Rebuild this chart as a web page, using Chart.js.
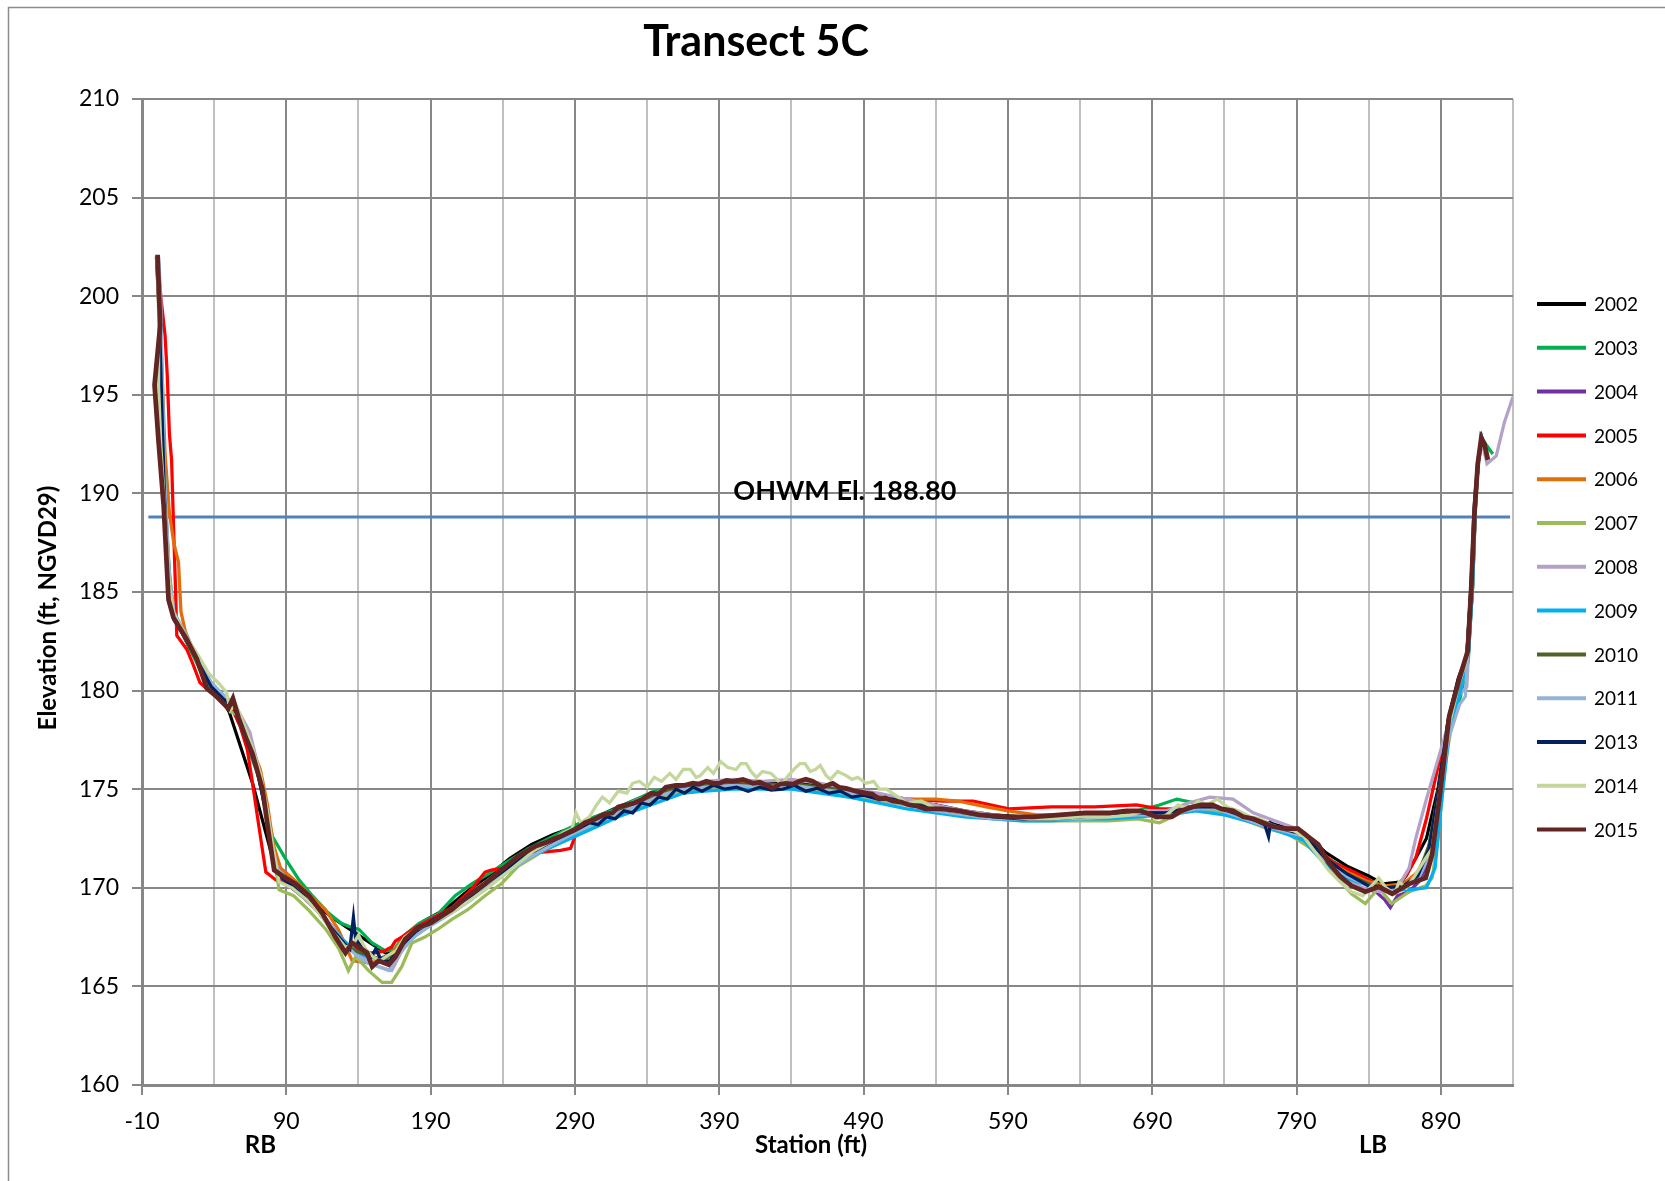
<!DOCTYPE html>
<html lang="en">
<head>
  <meta charset="UTF-8">
  <title>Transect 5C</title>
  <script src="https://cdn.jsdelivr.net/npm/chart.js"></script>
  <style>
    html, body { margin: 0; padding: 0; background: #fff; }
    #wrap { width: 1665px; height: 1181px; }
  </style>
</head>
<body>
  <div id="wrap"><canvas id="myChart" width="1665" height="1181"></canvas></div>

  <script>
    // survey points: [station (ft), elevation (ft)]
    const survey2002 = [[0,202],[2,199],[3,195],[5,190],[8,185.2],[12,183.8],[22,182.3],[30,181.2],[38,180.2],[45,179.6],[50.5,178.9],[66.6,175.3],[82.7,170.9],[89.6,170.6],[100,170.0],[110,169.2],[121.8,168.5],[140,167.6],[158.7,166.7],[165,166.7],[175,167.6],[185,168.3],[200,168.9],[215,169.8],[230,170.6],[245,171.5],[260,172.2],[275,172.7],[290,173.1],[305,173.6],[320,174.1],[340,174.7],[360,175.1],[380,175.3],[400,175.3],[420,175.3],[440,175.3],[460,175.2],[480,174.9],[500,174.6],[520,174.4],[540,174.2],[560,173.9],[580,173.7],[600,173.6],[620,173.6],[640,173.7],[660,173.8],[680,173.9],[700,173.8],[720,174.1],[740,174.0],[760,173.5],[780,173.1],[795,172.8],[810,171.8],[825,171.1],[840,170.6],[850,170.2],[863,170.3],[872.6,171.5],[880,172.5],[888,175.0],[895,178.5],[902,180.6],[908,181.8],[911,185.5],[913,189.2],[915.5,191.6],[918,192.7],[922,191.8]];
    const survey2003 = [[0.5,202],[2,199.5],[3.5,195],[5.5,190],[9,186],[12,183.8],[22,182.3],[30,181.1],[38,180.1],[46,179.5],[52,179.2],[58,178.2],[64,177.0],[70,175.8],[76,174.0],[80.4,172.6],[90,171.4],[98.8,170.4],[108,169.6],[118,168.8],[128,168.2],[135,168.0],[140.2,167.9],[149.5,167.2],[158.7,166.8],[165,166.9],[172,167.6],[182,168.2],[195.5,168.7],[207,169.6],[218.5,170.2],[232,170.8],[245,171.4],[258,172.0],[272,172.5],[288,173.1],[300,173.5],[315,173.9],[330,174.4],[345,174.9],[360,175.1],[380,175.3],[400,175.3],[420,175.2],[440,175.2],[460,175.0],[480,174.8],[500,174.5],[520,174.3],[540,174.1],[560,173.8],[580,173.6],[600,173.6],[620,173.6],[640,173.7],[660,173.8],[680,173.9],[695,174.2],[707,174.5],[720,174.3],[735,174.0],[750,173.6],[765,173.3],[780,173.0],[795,172.7],[810,171.6],[825,170.9],[840,170.4],[852,170.0],[864,170.0],[872,170.6],[880,171.5],[888,174.5],[896,178.6],[903,179.5],[909,181.5],[912,185.4],[914,189.5],[916,191.7],[918.5,192.8],[922,192.4],[926,192.0]];
    const survey2004 = [[0.5,202],[2,199],[3.5,195],[5,190],[8.5,185],[12,183.6],[22,182.4],[30,181.3],[38,180.2],[46,179.6],[53,179.2],[58,178.4],[64,177.2],[70,175.9],[76,173.8],[80,171.8],[84,170.6],[92,170.1],[102,169.5],[112,168.8],[122,168.0],[130,167.3],[138,166.8],[146,166.6],[154,166.4],[162,166.6],[170,167.2],[180,167.9],[190,168.4],[204,168.9],[218,169.7],[230,170.4],[245,171.2],[260,172.0],[275,172.5],[290,173.0],[305,173.5],[320,173.9],[335,174.3],[350,174.8],[365,175.1],[380,175.2],[400,175.3],[420,175.2],[440,175.2],[460,175.0],[480,174.8],[500,174.5],[520,174.3],[540,174.0],[560,173.8],[580,173.6],[600,173.5],[620,173.5],[640,173.6],[660,173.7],[680,173.8],[700,173.8],[715,174.1],[730,174.1],[745,173.8],[760,173.4],[775,173.1],[790,172.8],[805,171.6],[820,170.6],[835,170.0],[845,169.8],[851,169.4],[855,169.0],[860,169.6],[868,169.8],[876,170.4],[884,172.0],[890,175.0],[896,178.4],[903,180.2],[909,181.8],[912,185.5],[914,189.6],[916,191.8],[918.5,192.7],[922,191.9]];
    const survey2005 = [[0.5,202],[3,200],[6,198],[7.5,196],[9,193],[10.5,191.7],[12,188],[13.5,184.5],[14.1,182.8],[21,182.1],[25,181.4],[30.2,180.4],[38,179.9],[46,179.4],[53,179.0],[58,178.2],[63,177.0],[66.6,175.3],[70,173.6],[73.5,171.9],[75.8,170.8],[82.7,170.4],[92,170.1],[102,169.6],[112,168.9],[122,168.0],[130,167.2],[138,166.9],[145,166.7],[151.8,166.7],[158,166.8],[163,167.0],[165.6,167.3],[170,167.5],[180,168.0],[190,168.4],[205,169.0],[218,169.9],[227.7,170.8],[232,170.9],[240,171.0],[252,171.5],[266,171.8],[280,171.9],[287,172.0],[291,172.8],[300,173.3],[315,173.7],[330,174.1],[345,174.7],[360,175.1],[380,175.2],[400,175.3],[420,175.2],[440,175.2],[460,175.1],[480,174.9],[500,174.7],[520,174.5],[545,174.4],[566,174.4],[590.6,174.0],[620,174.1],[650,174.1],[679,174.2],[695,174.0],[710,174.0],[725,174.2],[740,173.9],[755,173.5],[770,173.2],[785,172.9],[800,172.3],[815,171.3],[830,170.8],[845,170.2],[858,170.0],[866,170.6],[872.6,171.5],[880,173.5],[888.8,176.4],[895.8,178.3],[903,180.3],[909,182.0],[912,185.3],[914,189.3],[916,191.7],[918.5,192.7],[922,191.8]];
    const survey2006 = [[0.5,202],[2,199.5],[4,196],[6,192],[9,189],[12,187.5],[15.3,186.5],[17,184],[20,183.0],[27,181.8],[35,180.5],[43,179.7],[52,179.3],[58,178.5],[65,177.3],[72,176.0],[77,174.2],[81,172.2],[86,171.0],[94,170.5],[104,169.8],[117,168.9],[126,167.9],[132,166.9],[135.6,166.3],[147,166.2],[155,166.3],[162,166.6],[170,167.3],[180,167.9],[192,168.3],[205,168.9],[218,169.7],[230,170.4],[245,171.1],[260,171.8],[275,172.4],[290,173.0],[305,173.5],[320,173.9],[335,174.4],[350,174.9],[365,175.1],[380,175.2],[400,175.3],[420,175.2],[440,175.2],[460,175.1],[480,174.9],[500,174.7],[520,174.5],[540,174.5],[555,174.4],[575,174.1],[590,173.9],[610,173.7],[630,173.7],[650,173.8],[670,173.8],[690,173.9],[705,173.9],[720,174.1],[735,174.0],[750,173.6],[765,173.3],[780,173.0],[795,172.7],[810,171.4],[825,170.8],[840,170.3],[852,170.1],[864,170.2],[874,170.8],[882,172.0],[889,175.2],[896,178.5],[903,180.4],[909,181.9],[912,185.3],[914,189.4],[916,191.7],[918.5,192.7],[922,191.8]];
    const survey2007 = [[0.5,202],[2,199],[3.5,195.5],[5.5,190],[9,185.5],[12,183.8],[22,182.5],[30,181.3],[38,180.3],[46,179.7],[52,178.9],[56,178.8],[60,178.3],[66,177.0],[72,175.6],[77,173.8],[81,171.8],[85,169.9],[95,169.6],[105,168.9],[117.3,167.9],[126.5,166.9],[133,165.8],[138,166.5],[142,166.2],[147,165.8],[156.4,165.2],[163,165.2],[170,166.0],[177,167.2],[186,167.5],[195,167.9],[204.7,168.4],[216,168.9],[227.7,169.6],[239,170.2],[250.7,171.1],[262,171.6],[275,172.2],[290,172.7],[305,173.2],[320,173.7],[335,174.1],[350,174.6],[365,174.9],[380,175.0],[400,175.1],[420,175.1],[440,175.1],[460,174.9],[480,174.6],[500,174.4],[520,174.2],[540,173.9],[560,173.7],[580,173.5],[600,173.4],[620,173.4],[640,173.4],[660,173.4],[680,173.5],[695,173.3],[710,173.8],[725,174.0],[740,173.8],[755,173.4],[770,173.0],[785,172.7],[800,172.0],[815,170.8],[828,169.7],[837.7,169.2],[847,170.0],[856,169.2],[868,169.8],[879.5,170.1],[884,170.5],[888,172.5],[893,176.2],[899,179.0],[905,180.4],[909,181.9],[912,185.3],[914,189.4],[916,191.7],[918.5,192.7],[922,191.8]];
    const survey2008 = [[0.5,202],[2,199],[3.5,195],[5.5,190],[9,185.2],[12,183.9],[22,182.6],[30,181.4],[38,180.3],[46,179.8],[53,179.4],[58,178.8],[64.7,177.9],[70,176.3],[76,174.2],[80,172.2],[84,170.9],[92,170.3],[102,169.6],[112,168.8],[122,167.8],[130,167.1],[138,166.7],[146,166.3],[154,166.0],[163,165.8],[170,166.8],[180,167.7],[190,168.2],[204,168.8],[218,169.5],[230,170.3],[245,171.0],[260,171.8],[275,172.4],[290,172.9],[305,173.5],[320,174.0],[335,174.5],[350,174.9],[365,175.2],[380,175.4],[400,175.5],[420,175.4],[440,175.5],[460,175.3],[480,175.0],[500,174.8],[520,174.5],[540,174.2],[560,173.9],[580,173.7],[600,173.5],[620,173.5],[640,173.6],[660,173.7],[680,173.9],[700,173.9],[715,174.3],[730,174.6],[746,174.5],[760,173.8],[775,173.4],[790,173.0],[805,171.9],[820,170.7],[835,170.0],[848,169.8],[860,170.0],[868,171.0],[872.6,172.5],[880,174.5],[888,176.5],[896,178.5],[903,179.8],[908,180.2],[911,184.8],[913.5,189.2],[916,191.7],[918.5,192.6],[922,191.5],[928.4,191.9],[934,193.6],[940,194.9]];
    const survey2009 = [[0.5,202],[2.5,199.5],[4,195.5],[6,190],[9,185.5],[12,184.0],[22,182.5],[30,181.4],[38,180.4],[46,179.8],[53,179.3],[58,178.5],[64,177.3],[70,176.0],[76,174.1],[80,172.1],[84,170.8],[92,170.3],[102,169.6],[112,168.9],[122,168.0],[130,167.3],[138,166.8],[146,166.5],[154,166.4],[162,166.5],[170,167.0],[180,167.6],[190,168.1],[204,168.7],[218,169.4],[230,170.1],[245,170.9],[260,171.6],[275,172.1],[290,172.6],[305,173.1],[320,173.6],[335,174.0],[350,174.4],[365,174.8],[380,174.9],[400,175.0],[420,175.0],[440,175.0],[460,174.8],[480,174.6],[500,174.3],[520,174.0],[540,173.8],[560,173.6],[580,173.5],[600,173.4],[620,173.4],[640,173.5],[660,173.5],[680,173.6],[700,173.7],[720,173.9],[740,173.7],[760,173.3],[780,172.8],[795,172.4],[810,171.2],[825,170.5],[840,170.1],[855,169.9],[868,169.9],[880,170.0],[886,171.0],[890,174.0],[896,178.0],[903,179.8],[909,181.7],[912,185.2],[914,189.4],[916,191.7],[918.5,192.8],[922,191.9]];
    const survey2010 = [[0.5,202],[2,199],[3.5,195],[5.5,190],[8.8,184.8],[12,183.8],[22,182.5],[30,181.3],[38,180.2],[46,179.6],[53,179.3],[58,178.5],[64,177.2],[70,175.9],[76,173.9],[80,171.9],[84,170.7],[92,170.2],[102,169.6],[112,168.8],[122,167.9],[130,167.1],[138,166.8],[146,166.6],[154,166.4],[162,166.5],[170,167.1],[180,167.8],[190,168.3],[204,168.9],[218,169.6],[230,170.3],[245,171.1],[260,171.8],[275,172.4],[290,173.0],[305,173.5],[320,173.9],[335,174.4],[350,174.9],[365,175.1],[380,175.2],[400,175.3],[420,175.2],[440,175.3],[460,175.1],[480,174.9],[500,174.6],[520,174.3],[540,174.0],[560,173.8],[580,173.6],[600,173.5],[620,173.5],[640,173.6],[660,173.7],[680,173.8],[700,173.8],[720,174.1],[735,174.1],[750,173.7],[765,173.3],[780,173.0],[795,172.7],[810,171.5],[825,170.7],[840,170.2],[852,170.0],[864,170.1],[874,170.6],[882,172.2],[888,174.8],[895,178.4],[902,180.2],[908,181.8],[911,185.3],[913.5,189.3],[916,191.6],[918.5,192.7],[922,191.8]];
    const survey2011 = [[1.5,202],[3,200],[4,196],[5.5,191],[9,185.8],[12,184],[22,182.6],[30,181.5],[38,180.4],[46,179.8],[53,179.3],[58,178.6],[64,177.4],[70,176.1],[76,174.2],[80,172.2],[84,170.9],[92,170.4],[102,169.7],[112,168.9],[122,168.0],[130,167.2],[138,166.6],[146,166.2],[154,166.0],[161,165.8],[168,166.6],[178,167.5],[190,168.1],[204,168.7],[218,169.4],[230,170.1],[245,170.9],[260,171.6],[275,172.2],[290,172.8],[305,173.3],[320,173.8],[335,174.2],[350,174.7],[365,175.0],[380,175.1],[400,175.2],[420,175.1],[440,175.2],[460,175.0],[480,174.8],[500,174.5],[520,174.2],[540,173.9],[560,173.7],[580,173.5],[600,173.5],[620,173.5],[640,173.5],[660,173.6],[680,173.7],[700,173.7],[720,174.0],[735,174.0],[750,173.6],[765,173.2],[780,172.9],[795,172.6],[810,171.4],[825,170.6],[840,170.1],[852,169.9],[864,170.0],[874,170.4],[882,171.6],[888,174.0],[895,177.5],[903,179.3],[907,179.7],[910,183.5],[913,188.8],[916,191.6],[918.5,192.7],[922,191.8]];
    const survey2013 = [[0.5,202],[2,199],[3.5,195],[5.5,190],[8.6,184.8],[12,183.8],[22,182.5],[30,181.3],[38,180.2],[46,179.6],[53,179.2],[58,178.5],[64,177.3],[70,175.9],[76,173.8],[80,171.8],[84,170.7],[92,170.2],[102,169.6],[112,168.8],[122,167.9],[130,167.2],[134,166.9],[136.5,168.5],[138,167.4],[142,167.0],[148,166.4],[152,166.9],[156,166.3],[162,166.3],[170,167.1],[180,167.8],[190,168.3],[204,168.9],[218,169.6],[230,170.3],[245,171.1],[260,171.8],[275,172.4],[290,172.9],[300,173.3],[306,173.2],[312,173.6],[318,173.5],[324,173.9],[330,173.8],[336,174.3],[342,174.2],[348,174.6],[354,174.5],[360,175.0],[366,174.8],[372,175.1],[378,174.9],[386,175.2],[394,175.0],[402,175.1],[410,174.9],[418,175.1],[426,174.95],[434,175.0],[442,175.2],[450,174.9],[458,175.05],[466,174.8],[474,174.9],[482,174.6],[490,174.7],[500,174.5],[510,174.5],[520,174.3],[540,174.0],[560,173.8],[580,173.6],[600,173.5],[620,173.5],[640,173.6],[660,173.7],[680,173.8],[700,173.8],[720,174.1],[735,174.1],[750,173.7],[762,173.4],[768,173.2],[770.6,172.6],[772,173.3],[780,173.0],[795,172.7],[810,171.5],[825,170.7],[840,170.1],[852,170.0],[864,170.1],[874,170.6],[882,172.0],[888,174.8],[895,178.4],[902,180.2],[908,181.8],[911,185.3],[913.5,189.3],[916,191.6],[918.5,192.8],[922,191.9]];
    const survey2014 = [[0.5,202],[1.5,199],[1.5,195.5],[3,192.5],[5.5,189.5],[9,185.3],[12,183.9],[20,182.8],[28,181.9],[36,180.9],[44,180.3],[48.6,179.9],[51,179.0],[55,179.3],[60,178.4],[66,177.2],[72,175.8],[77,173.8],[81,171.9],[85,170.3],[94,170.0],[104,169.4],[114,168.6],[124,167.6],[131,167.0],[136,167.1],[140,167.6],[145,166.9],[150,166.5],[155,166.3],[161,166.6],[166,166.8],[172,167.5],[180,167.9],[190,168.2],[204,168.7],[216,169.3],[228,169.9],[240,170.6],[250,171.2],[262,171.9],[272,172.3],[282,172.8],[288,173.0],[290.7,173.8],[294,173.3],[300,173.6],[305,174.2],[309,174.6],[314,174.3],[320,174.9],[326,174.8],[330,175.3],[334.6,175.4],[340,175.1],[345,175.6],[350,175.4],[355.7,175.8],[360,175.5],[365,176.0],[370,176.0],[374,175.6],[377,175.7],[382,176.1],[386,175.8],[391,176.4],[396,176.1],[401.6,176.0],[405,176.3],[408.7,176.3],[412,175.9],[415.7,175.6],[420,175.9],[426,175.8],[430,175.5],[433,175.2],[438,175.7],[443,176.1],[446,176.3],[449.5,176.3],[453,175.9],[456.5,176.0],[460,176.2],[464,175.7],[467,175.5],[472,175.9],[477.7,175.7],[482,175.5],[486,175.6],[491.8,175.3],[497,175.4],[501,175.0],[506,175.0],[512,174.7],[520,174.3],[530,174.4],[540,174.0],[550,173.9],[560,173.8],[575,173.7],[590,173.6],[605,173.5],[620,173.5],[640,173.6],[660,173.6],[675,173.7],[685,173.9],[692,173.5],[700,173.7],[708,174.2],[715,174.0],[722,174.4],[728,174.2],[735,174.5],[742,174.1],[750,173.9],[758,173.6],[765,173.5],[772,173.2],[780,173.0],[788,172.9],[795,172.6],[803,171.8],[812,170.9],[820,170.3],[828,169.8],[836,169.6],[842,170.1],[847,170.5],[852,170.0],[858,169.7],[861,170.3],[866,170.0],[872,170.6],[879.5,171.5],[884,172.0],[888,174.2],[895,178.0],[902,180.2],[908,181.6],[911,185.2],[913.5,189.3],[916,191.6],[918.5,192.7],[922,191.8]];
    const survey2015 = [[0.8,202.1],[2.6,198.5],[-1.3,195.5],[1.5,192.6],[5,189.4],[8.4,184.6],[11.8,183.7],[21,182.6],[28,181.6],[35,180.1],[41.7,179.7],[49.8,179.1],[53,179.6],[57,178.6],[62,177.6],[66.6,176.8],[73.5,175.0],[78.1,172.6],[81.6,170.9],[87.3,170.6],[96.5,170.2],[105.7,169.6],[115,168.7],[124,167.5],[131,166.7],[135.6,167.2],[140.2,167.0],[146,166.7],[149.5,166.0],[154,166.3],[161,166.1],[165.6,166.5],[172.5,167.4],[181.7,168.0],[189.7,168.2],[204.7,168.9],[216,169.6],[227.7,170.2],[239,170.9],[250.7,171.6],[262.5,172.1],[270,172.3],[279.6,172.6],[291,173.0],[297,173.3],[302.7,173.45],[309.6,173.7],[316,173.8],[320,174.1],[325.7,174.2],[331,174.3],[337,174.5],[343,174.8],[348,174.75],[353,175.1],[360,175.2],[366,175.2],[371.8,175.3],[376,175.25],[381,175.4],[386,175.3],[390,175.3],[395,175.45],[399.4,175.4],[406.4,175.5],[413.3,175.3],[418,175.35],[422.5,175.2],[427,175.05],[432,175.25],[436.3,175.3],[441,175.25],[445.5,175.4],[450,175.5],[454.7,175.4],[461.7,175.1],[465,175.2],[468.6,175.3],[473,175.1],[477.8,175.05],[484.7,174.9],[491.6,174.8],[496,174.75],[500.8,174.5],[505,174.55],[510,174.4],[516,174.35],[521.6,174.2],[527,174.15],[533,174.0],[544.6,174.0],[556,173.9],[570,173.7],[590.6,173.6],[608,173.6],[626,173.7],[643.6,173.8],[661,173.8],[672,173.9],[682,173.9],[693,173.6],[703.5,173.6],[710,173.9],[717.7,174.1],[724,174.2],[731.8,174.2],[738,174.0],[746,173.9],[753,173.6],[760,173.5],[767,173.3],[774,173.1],[782,173.0],[791,173.0],[798,172.6],[805,172.2],[812,171.3],[820,170.6],[828,170.1],[837.7,169.8],[847,170.05],[856.3,169.7],[868,170.2],[879.5,170.5],[884,171.7],[888.8,174.4],[895.8,178.7],[902.8,180.6],[908.6,182.0],[911,185.1],[913.3,189.0],[915.6,191.5],[918,192.8],[920.2,192.5],[922.6,191.7]];

    const years = ['2002', '2003', '2004', '2005', '2006', '2007', '2008', '2009', '2010', '2011', '2013', '2014', '2015'];
    const surveys = [survey2002, survey2003, survey2004, survey2005, survey2006, survey2007, survey2008, survey2009, survey2010, survey2011, survey2013, survey2014, survey2015];
    const colors = ['#000000', '#00B050', '#7030A0', '#FF0000', '#E46C0A', '#9BBB59', '#B3A2C7', '#00B0F0', '#4F6228', '#95B3D7', '#002060', '#C3D69B', '#632523'];

    const ohwmElev = 188.8;
    const ohwmStations = [-5.6, 938];
    const xMajorTicks = [-10, 90, 190, 290, 390, 490, 590, 690, 790, 890];

    const darkGrid = '#878787';
    const lightGrid = '#c0c0c0';
    Chart.defaults.font.family = 'Lato, "Open Sans", sans-serif';
    Chart.defaults.color = '#000';

    const datasets = years.map((yr, i) => ({
      label: yr,
      data: surveys[i].map(p => ({ x: p[0], y: p[1] })),
      borderColor: colors[i],
      backgroundColor: colors[i],
      borderWidth: yr === '2015' ? 4.75 : 3.25,
      pointRadius: 0,
      tension: 0,
      order: years.length - i
    }));
    datasets.push({
      label: 'OHWM',
      data: ohwmStations.map(s => ({ x: s, y: ohwmElev })),
      borderColor: '#4F81BD',
      borderWidth: 3,
      pointRadius: 0,
      order: 50
    });

    // title, axis titles, OHWM label and legend drawn on the canvas
    const textPlugin = {
      id: 'textPlugin',
      beforeDraw(chart) {
        const ctx = chart.ctx;
        ctx.save();
        ctx.fillStyle = '#fff';
        ctx.fillRect(0, 0, chart.width, chart.height);
        ctx.strokeStyle = '#8c8c8c';
        ctx.lineWidth = 1.5;
        ctx.strokeRect(8.5, 7.5, chart.width + 20, chart.height + 20);
        ctx.restore();
      },
      afterDraw(chart) {
        const ctx = chart.ctx;
        const xs = chart.scales.x, ys = chart.scales.y;
        ctx.save();
        ctx.fillStyle = '#000';
        ctx.textAlign = 'center';
        ctx.textBaseline = 'middle';

        ctx.font = 'bold 43px Lato';
        ctx.fillText('Transect 5C', 756, 42);

        ctx.font = 'bold 24px Lato';
        ctx.fillText('Station (ft)', 811, 1145);
        ctx.fillText('RB', xs.getPixelForValue(72), 1145);
        ctx.fillText('LB', xs.getPixelForValue(843), 1145);

        ctx.font = 'bold 27px Lato';
        ctx.fillText('OHWM El. 188.80', xs.getPixelForValue(477), ys.getPixelForValue(190.1));

        ctx.save();
        ctx.font = 'bold 24px Lato';
        ctx.translate(48, 608);
        ctx.rotate(-Math.PI / 2);
        ctx.fillText('Elevation (ft, NGVD29)', 0, 0);
        ctx.restore();

        // legend
        ctx.font = '19px Lato';
        ctx.textAlign = 'left';
        chart.data.datasets.forEach((ds, i) => {
          if (ds.label === 'OHWM') return;
          const y = 304 + i * 43.8;
          ctx.strokeStyle = ds.borderColor;
          ctx.lineWidth = 4;
          ctx.beginPath();
          ctx.moveTo(1537, y);
          ctx.lineTo(1586, y);
          ctx.stroke();
          ctx.fillText(ds.label, 1594, y + 1);
        });
        ctx.restore();
      }
    };

    const ctx = document.getElementById('myChart').getContext('2d');
    const myChart = new Chart(ctx, {
      type: 'line',
      data: { datasets: datasets },
      options: {
        responsive: false,
        animation: false,
        layout: { padding: { top: 99, right: 152, bottom: 0, left: 0 } },
        plugins: {
          legend: { display: false },
          title: { display: false },
          tooltip: { enabled: false }
        },
        scales: {
          x: {
            type: 'linear',
            min: -10,
            max: 940,
            afterFit(scale) { scale.height = 96; },
            ticks: {
              stepSize: 50,
              maxTicksLimit: 100,
              autoSkip: false,
              maxRotation: 0,
              padding: 13,
              font: { size: 23 },
              callback: v => xMajorTicks.includes(Math.round(v)) ? String(Math.round(v)) : ''
            },
            grid: {
              lineWidth: 2,
              tickLength: 10,
              color: c => (c.tick && xMajorTicks.includes(Math.round(c.tick.value))) ? darkGrid : lightGrid,
              tickColor: c => (c.tick && xMajorTicks.includes(Math.round(c.tick.value))) ? darkGrid : 'rgba(0,0,0,0)'
            },
            border: { color: darkGrid, width: 3 }
          },
          y: {
            min: 160,
            max: 210,
            afterFit(scale) { scale.width = 142; },
            ticks: {
              stepSize: 5,
              padding: 13,
              font: { size: 23 }
            },
            grid: { color: darkGrid, lineWidth: 2, tickLength: 10 },
            border: { color: darkGrid, width: 3 }
          }
        }
      },
      plugins: [textPlugin]
    });
  </script>
</body>
</html>
